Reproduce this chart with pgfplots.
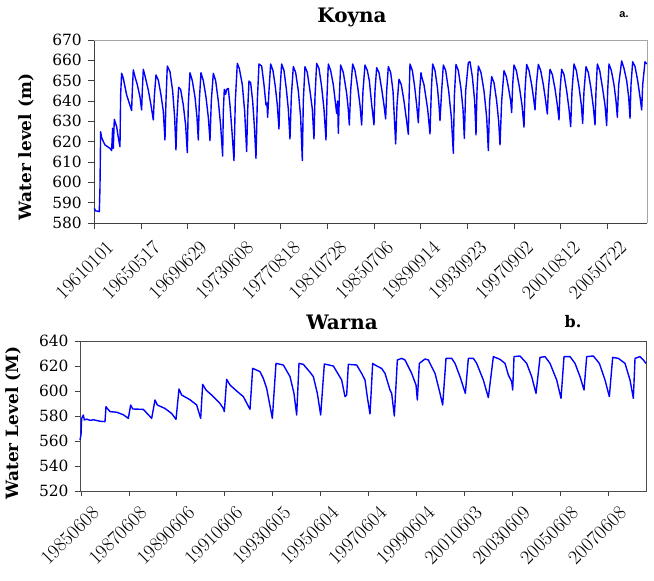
\documentclass[border=0pt]{standalone}
\usepackage{fontspec}
\usepackage{graphicx}
\setmainfont{DejaVu Serif}
\newfontfamily\labfont{DejaVu Serif}
\newfontfamily\arialfont{Liberation Sans}
\usepackage{pgfplots}
\pgfplotsset{compat=1.18}
\definecolor{lineblue}{RGB}{0,0,255}
\newcommand{\xl}[1]{\scalebox{1.15}{$#1$}}
\begin{document}
\begin{tikzpicture}[x=1bp,y=1bp]
\useasboundingbox (0,0) rectangle (654,581);
% ---------------- Koyna ----------------
\begin{axis}[
  at={(94.3bp,358bp)}, anchor=south west,
  width=552.7bp, height=183bp, scale only axis,
  xmin=43, xmax=1701, ymin=580, ymax=670,
  ytick={580,590,...,670},
  xtick={43,182.9,322.8,462.7,602.6,742.5,882.4,1022.3,1162.2,1302.1,1442,1581.9},
  xticklabels={\xl{19610101},\xl{19650517},\xl{19690629},\xl{19730608},\xl{19770818},\xl{19810728},\xl{19850706},\xl{19890914},\xl{19930923},\xl{19970902},\xl{20010812},\xl{20050722}},
  axis x line*=bottom, axis y line*=left,
  axis line style={black!75, line width=0.8pt},
  tick style={black!75, line width=0.8pt},
  tick align=outside, major tick length=6bp,
  xtick pos=bottom, ytick pos=left,
  /pgf/number format/assume math mode=true,
  yticklabel style={font=\fontsize{15.5}{15.5}\selectfont, xshift=-3bp},
  xticklabel style={font=\fontsize{18}{18}\selectfont, rotate=45, anchor=east, xshift=4bp, yshift=-22bp},
  clip=false,
]
\draw[gray!70, line width=0.8pt] (rel axis cs:0,1) -- (rel axis cs:1,1) -- (rel axis cs:1,0);
\addplot[lineblue, line width=1.4pt, line join=round] coordinates {
(43,587.2) (47,585.9) (50,585.9) (58,585.6) (60,597.1) (62,624.9) (65,622) (68,620.8) (75,618.4) (90,616.7) (95,615.6) (98,626.6) (100,616.7) (103,631.0) (110,627.4) (115,622) (120,617.5)
(122,643.0) (125,653.6) (130,651.2) (140,643.0) (148,638.9) (155,635.3)
(157,645) (160,655.3) (165,652.0) (172,648) (180,642) (185,635.6)
(187,645) (190,655.6) (197,651) (205,645.4) (213,638) (220,630.7)
(223,642) (228,652.8) (235,650.3) (243,643) (250,635) (255,620.8)
(258,640) (262,657.2) (270,654.4) (278,645) (284,632) (288,615.9)
(291,632) (296,646.7) (302,645.7) (310,638) (317,628) (322,614.6)
(325,638) (330,653.9) (337,650) (345,642) (351,632) (355,620.8)
(358,640) (363,653.9) (370,650) (378,642) (385,632) (390,620.5)
(394,640) (400,653.6) (407,650) (415,640) (422,628) (428,612.9)
(430,635) (433,645.7) (437,643.3) (440,645.7) (445,646.2) (450,638) (456,625) (462,610.7)
(466,640) (472,658.5) (478,656) (487,648) (494,635) (500,615.1)
(503,635) (507,649.8) (512,649.0) (518,640) (523,628) (528,611.8)
(532,640) (537,658.2) (545,657.2) (552,648) (558,638) (561,639) (563,632.0)
(567,645) (572,658.2) (579,655) (586,647) (592,638) (597,626.2)
(600,645) (605,658.2) (612,655) (619,646) (625,636) (630,621.3)
(634,642) (640,656.9) (647,654) (655,645) (662,632) (667,610.7)
(670,640) (675,656.9) (682,654) (690,645) (697,636) (702,621.3)
(705,642) (710,658.5) (717,656) (725,647) (732,636) (738,620.8)
(741,642) (745,658.2) (752,655) (760,648) (770,633.9) (773,640) (775,624.1)
(778,642) (782,657.7) (790,654) (800,643.8) (805,635.6) (808,628.2)
(812,645) (818,658.2) (825,655) (833,647) (840,638) (845,628.2)
(849,645) (855,657.7) (862,655) (868,650) (874,640) (882,628.2)
(885,645) (890,656.4) (897,654) (905,646) (912,638) (917,631.2)
(920,645) (925,656.9) (932,654) (939,645) (943,632) (947,618.9)
(951,638) (957,650.7) (964,648) (972,640) (980,630) (985,623.6)
(987,640) (990,658.2) (997,655) (1004,647) (1010,638) (1015,629.3)
(1019,645) (1023,653.9) (1025,652.0) (1032,648) (1043,636) (1050,623.8)
(1054,645) (1058,658.2) (1065,655) (1072,647) (1077,638) (1080,630.3)
(1085,645) (1090,657.7) (1097,655) (1106,645) (1114,632) (1120,614.3)
(1123,642) (1128,658.0) (1135,655) (1143,646) (1149,636) (1153,621.6)
(1157,645) (1165,658.9) (1170,659.3) (1177,652) (1184,640) (1188,623.3)
(1191,645) (1195,657.2) (1203,654) (1212,645) (1220,632) (1225,615.6)
(1229,640) (1235,652.0) (1242,649) (1250,640) (1256,630) (1260,618.4)
(1265,640) (1272,654.9) (1279,652) (1286,646) (1292,640) (1295,634.3)
(1298,648) (1302,657.7) (1309,655) (1318,647) (1326,638) (1332,627.1)
(1335,645) (1340,658.0) (1347,655) (1355,648) (1361,641) (1365,635.6)
(1369,648) (1375,658.0) (1382,655) (1390,648) (1397,640) (1402,633.6)
(1405,645) (1410,655.6) (1417,653) (1425,646) (1432,638) (1437,630.7)
(1440,645) (1445,655.6) (1452,653) (1460,645) (1467,636) (1472,627.4)
(1476,645) (1482,658.2) (1489,655) (1497,647) (1504,638) (1508,629.0)
(1512,645) (1518,656.9) (1525,654) (1533,646) (1540,637) (1545,628.2)
(1548,645) (1552,658.2) (1559,655) (1567,647) (1575,638) (1580,627.9)
(1583,645) (1587,658.2) (1594,655) (1602,648) (1608,640) (1612,632.0)
(1616,648) (1625,659.7) (1632,656) (1640,650) (1646,642) (1650,631.5)
(1653,648) (1658,659.3) (1665,657) (1673,650) (1680,642) (1685,635.6)
(1688,648) (1695,659.3) (1700,658.2)
};
\end{axis}
% ---------------- Warna ----------------
\begin{axis}[
  at={(80bp,90bp)}, anchor=south west,
  width=566bp, height=150bp, scale only axis,
  xmin=0, xmax=1698, ymin=520, ymax=640,
  ytick={520,540,...,640},
  xtick={3,146.8,290.6,434.4,578.2,722,865.8,1009.6,1153.4,1297.2,1441,1584.8},
  xticklabels={\xl{19850608},\xl{19870608},\xl{19890606},\xl{19910606},\xl{19930605},\xl{19950604},\xl{19970604},\xl{19990604},\xl{20010603},\xl{20030609},\xl{20050608},\xl{20070608}},
  axis line style={black!70, line width=0.8pt},
  tick style={black!75, line width=0.8pt},
  tick align=outside, major tick length=5bp,
  xtick pos=bottom, ytick pos=left,
  /pgf/number format/assume math mode=true,
  yticklabel style={font=\fontsize{15.5}{15.5}\selectfont, xshift=-3bp},
  xticklabel style={font=\fontsize{18}{18}\selectfont, rotate=45, anchor=east, xshift=4bp, yshift=-20bp},
  clip=false,
]
\addplot[lineblue, line width=1.4pt, line join=round] coordinates {
(0,560.8) (3,565) (5,578) (10,580.8) (13,576.8) (20,577.5) (30,576.5) (40,577) (60,575.8) (75,575.5)
(78,587.5) (82,586) (90,583.5) (110,583) (130,581) (145,578.1)
(152,588.8) (158,585.6) (190,585.3) (205,581) (215,578.1)
(225,592.8) (232,588.8) (255,586) (275,582) (288,577.3)
(297,601.6) (305,596.8) (330,593) (350,588.8) (362,578.1)
(368,605.3) (378,600.8) (400,595.5) (420,590) (430,586.1) (433,583.5)
(440,609.3) (450,604.8) (470,600) (490,595.5) (510,585.3)
(518,618.1) (540,615.5) (550,610) (560,602.1) (570,588) (577,578.1)
(588,622.1) (610,620.8) (630,611.5) (642,598) (650,580.8)
(657,622.1) (670,621.3) (690,615) (700,611.5) (712,598.1) (722,580.8)
(733,621.6) (760,620.0) (785,608.8) (795,595.5) (800,596.8)
(805,621.3) (830,620.8) (845,614) (855,608.8) (862,595) (870,581.6)
(878,622.1) (885,620.8) (905,618) (915,614.1) (930,600.8) (935,598.1) (943,580.0)
(952,624.8) (965,626.1) (975,624.8) (995,614.1) (1008,604.8) (1012,592.8)
(1018,622.1) (1035,625.6) (1045,624.8) (1065,614.1) (1080,598.1) (1088,588.8)
(1098,626.1) (1115,626.1) (1125,622.1) (1140,611.5) (1156,598.1)
(1165,626.1) (1180,626.1) (1190,622.1) (1210,608.8) (1225,594.7)
(1240,627.5) (1260,625.3) (1275,622.1) (1285,612.8) (1295,607.5) (1298,600.8)
(1302,627.5) (1320,628.0) (1340,622.1) (1355,611.5) (1368,598.1)
(1380,626.9) (1395,627.5) (1410,622.1) (1430,608.8) (1443,594.1)
(1452,627.5) (1470,627.5) (1485,622.1) (1500,611.5) (1512,600.8)
(1520,627.5) (1540,628.0) (1558,622.1) (1575,608.8) (1588,595.5)
(1598,626.9) (1615,626.1) (1635,622.1) (1650,608.8) (1660,594.1)
(1665,626.1) (1680,627.5) (1690,624.8) (1698,622.1)
};
\end{axis}
% ---------------- texts ----------------
\node[font=\labfont\bfseries\fontsize{20}{20}\selectfont] at (352,564) {Koyna};
\node[font=\arialfont\bfseries\fontsize{11}{11}\selectfont] at (624,566) {a.};
\node[font=\labfont\bfseries\fontsize{17}{17}\selectfont, rotate=90] at (26,434) {Water level (m)};
\node[font=\labfont\bfseries\fontsize{20}{20}\selectfont] at (342,259) {Warna};
\node[font=\labfont\bfseries\fontsize{16}{16}\selectfont] at (573,259) {b.};
\node[font=\labfont\bfseries\fontsize{17}{17}\selectfont, rotate=90] at (13,158) {Water Level (M)};
\end{tikzpicture}
\end{document}
